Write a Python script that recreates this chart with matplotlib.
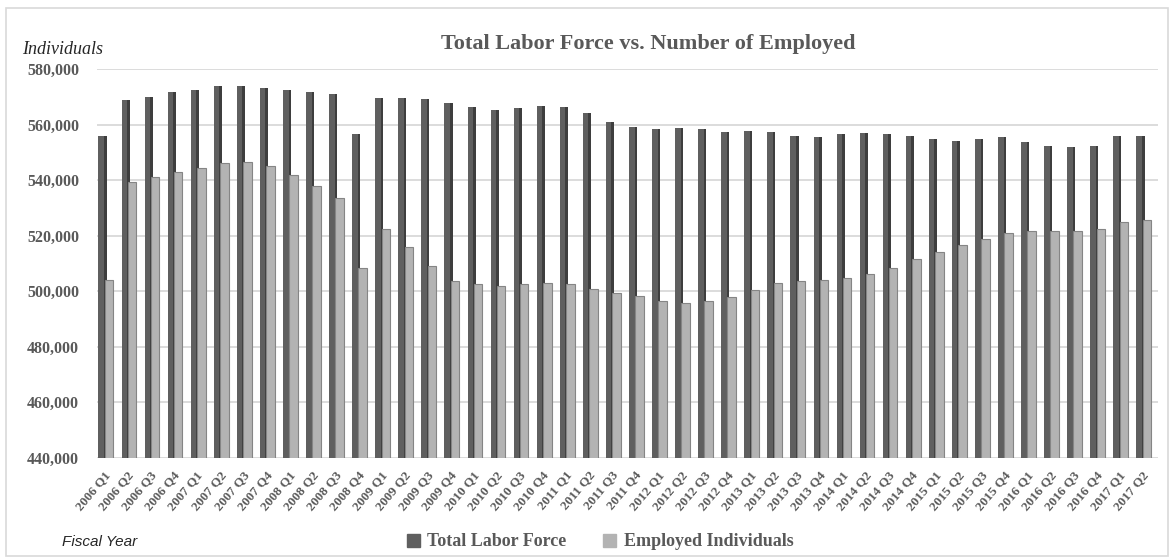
import matplotlib.pyplot as plt
import numpy as np
from matplotlib.patches import Patch, Rectangle
from matplotlib.ticker import FuncFormatter

# quarters 2006 Q1 .. 2017 Q2
quarters = [f"{y} Q{q}" for y in range(2006, 2018) for q in range(1, 5)][:46]

total_labor_force = [
    555700, 569000, 570000, 571600, 572600, 573800, 573800, 573000, 572400, 571800,
    570900, 556500, 569400, 569400, 569200, 567900, 566200, 565200, 565900, 566500,
    566200, 564000, 561000, 559000, 558400, 558600, 558400, 557400, 557800, 557400,
    555900, 555500, 556500, 556800, 556500, 555900, 554800, 553900, 554600, 555600,
    553800, 552100, 551900, 552400, 556000, 555700,
]
employed = [
    503800, 539400, 541200, 543000, 544400, 546200, 546500, 544900, 541700, 537800,
    533600, 508400, 522300, 515700, 508900, 503700, 502500, 501800, 502500, 502900,
    502500, 500700, 499200, 498200, 496500, 495600, 496500, 497900, 500400, 503000,
    503700, 503800, 504800, 506100, 508300, 511400, 514000, 516600, 518800, 521000,
    521700, 521500, 521600, 522300, 524900, 525600,
]

serif = ['Liberation Serif', 'DejaVu Serif']
grey_text = '#595959'

fig = plt.figure(figsize=(11.72, 5.6), dpi=100)
ax = fig.add_axes([97 / 1172, 102.5 / 560, 1061 / 1172, 388.5 / 560])

x = np.arange(len(quarters))
# dark bars with a darker right-hand side to give the 3-D look
ax.bar(x - 0.26, total_labor_force, width=0.35, color='#5f5f5f', zorder=3)
ax.bar(x - 0.14, total_labor_force, width=0.11, color='#3e3e3e', zorder=3)
ax.bar(x + 0.02, employed, width=0.37, color='#b3b3b3',
       edgecolor='#858585', linewidth=0.8, zorder=4)

ax.set_xlim(-0.5, len(quarters) - 0.5)
ax.set_ylim(440000, 580000)
ax.set_yticks(np.arange(440000, 580001, 20000))
ax.yaxis.set_major_formatter(FuncFormatter(lambda v, p: f"{int(v):,}"))
ax.grid(axis='y', color='#d9d9d9', linewidth=1.3, zorder=0)
for s in ax.spines.values():
    s.set_visible(False)
ax.tick_params(axis='both', length=0)
ax.tick_params(axis='y', pad=13, labelcolor=grey_text)
for lab in ax.get_yticklabels():
    lab.set_fontfamily(serif)
    lab.set_fontsize(11.5)
    lab.set_fontweight('bold')

ax.set_xticks(x)
ax.set_xticklabels(quarters, rotation=50, ha='right', va='center',
                   rotation_mode='anchor', fontfamily=serif, fontsize=9.5,
                   fontweight='bold', color=grey_text)
ax.tick_params(axis='x', pad=11)

fig.text(648 / 1172, 1 - 44 / 560, 'Total Labor Force vs. Number of Employed',
         ha='center', va='center', fontfamily=serif, fontsize=16,
         fontweight='bold', color=grey_text)
fig.text(22 / 1172, 1 - 50 / 560, 'Individuals', ha='left', va='center',
         fontfamily=serif, fontsize=13, style='italic', color='#262626')
fig.text(62 / 1172, 1 - 542 / 560, 'Fiscal Year', ha='left', va='center',
         fontfamily=['Liberation Sans', 'DejaVu Sans'], fontsize=11,
         style='italic', color='#262626')

handles = [Patch(color='#5f5f5f', label='Total Labor Force'),
           Patch(color='#b3b3b3', label='Employed Individuals')]
fig.legend(handles=handles, loc='center', bbox_to_anchor=(600 / 1172, 1 - 542 / 560),
           ncol=2, frameon=False, handlelength=0.75, handleheight=0.75,
           handletextpad=0.4, columnspacing=2.0, labelcolor=grey_text,
           prop={'family': serif, 'size': 13, 'weight': 'bold'})

# light grey frame round the whole chart
fig.patches.append(Rectangle((6 / 1172, 4 / 560), 1162 / 1172, 548 / 560,
                             transform=fig.transFigure, fill=False,
                             edgecolor='#d9d9d9', linewidth=1.2))

fig.savefig('out.png', dpi=100)
